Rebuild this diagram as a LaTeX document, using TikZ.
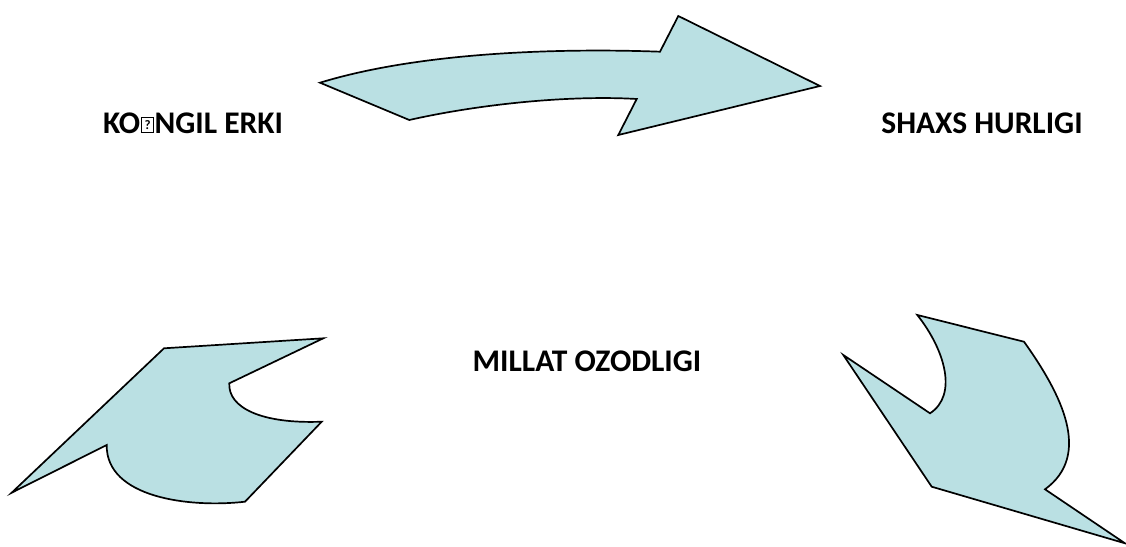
\documentclass[tikz,border=0pt]{standalone}
\usepackage{fontspec}
\setmainfont{Carlito}
\definecolor{arrowfill}{RGB}{186,224,227}
\newcommand{\tofu}{{\setlength{\fboxsep}{0pt}\setlength{\fboxrule}{1.3pt}\hspace{0.8pt}\raisebox{1.3pt}{\fbox{\makebox[10.5pt]{\rule{0pt}{14pt}\raisebox{2pt}{\fontsize{13}{13}\selectfont ?}}}}\hspace{0.5pt}}}
\tikzset{
  lbltext/.style={font=\fontsize{31.5}{34}\selectfont\bfseries, inner sep=0pt, anchor=center},
  arrowshape/.style={fill=arrowfill, draw=black, line width=1.7pt, line join=miter}
}
\begin{document}
\begin{tikzpicture}[x=1pt,y=-1pt]
\useasboundingbox (0,0) rectangle (1126,546);
% labels
\node[lbltext] (t1) at (193,123) {KO\tofu NGIL ERKI};
\node[lbltext] (t2) at (982,123.5) {SHAXS HURLIGI};
\node[lbltext] (t3) at (587,361.5) {MILLAT OZODLIGI};
% top arrow
\path[arrowshape] (320,82.7) -- (409.3,120)
  .. controls (480,104) and (570,95) .. (636.7,99)
  -- (618.3,135) -- (820,86) -- (678.3,16) -- (660,51.7)
  .. controls (560,48) and (420,52) .. (320,82.7) -- cycle;
% left arrow
\path[arrowshape] (164,348.3) -- (323.3,338.3) -- (229.3,383.3)
  .. controls (228,408) and (262,424) .. (321.7,421.7)
  -- (245,501.7)
  .. controls (190,508) and (106,498) .. (106.7,445)
  -- (11.7,492.7) -- cycle;
% right arrow
\path[arrowshape] (917.3,315) -- (1024,341.7)
  .. controls (1062,395) and (1092,455) .. (1045,489.3)
  -- (1125,543.3) -- (931.7,486.7) -- (843.3,355) -- (930,413.3)
  .. controls (958,395) and (945,350) .. (917.3,315) -- cycle;
\end{tikzpicture}
\end{document}
